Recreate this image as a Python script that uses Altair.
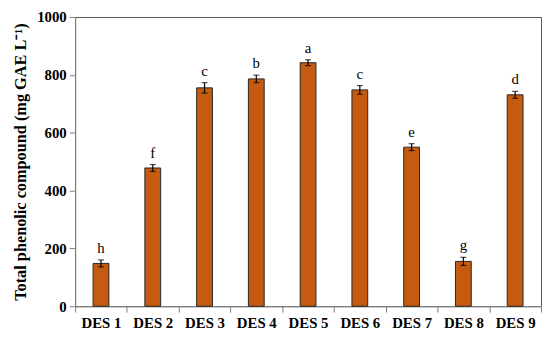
import altair as alt
import pandas as pd

categories = ["DES 1", "DES 2", "DES 3", "DES 4", "DES 5", "DES 6", "DES 7", "DES 8", "DES 9"]
values = [148, 478, 755, 786, 842, 748, 550, 155, 731]
errors = [12, 12, 18, 13, 10, 15, 12, 14, 12]
letters = ["h", "f", "c", "b", "a", "c", "e", "g", "d"]

df = pd.DataFrame({"cat": categories, "val": values, "err": errors, "letter": letters})
df["lo"] = df["val"] - df["err"]
df["hi"] = df["val"] + df["err"]

FONT = "Liberation Serif"

x = alt.X("cat:N", sort=categories, title=None,
          scale=alt.Scale(paddingInner=0, paddingOuter=0),
          axis=alt.Axis(labelAngle=0, tickBand="extent", labelFont=FONT, labelFontSize=15,
                        labelFontWeight="bold", labelColor="black", tickSize=6,
                        domainColor="#7f7f7f", tickColor="#7f7f7f", labelPadding=4))
y = alt.Y("val:Q", title="Total phenolic compound (mg GAE L⁻¹)",
          scale=alt.Scale(domain=[0, 1000]),
          axis=alt.Axis(values=[0, 200, 400, 600, 800, 1000], format="d", labelFont=FONT,
                        labelFontSize=15, labelFontWeight="bold", labelColor="black",
                        titleFont=FONT, titleFontSize=16.5, titleFontWeight="bold",
                        titleColor="black", grid=False, tickSize=6, domainColor="#7f7f7f",
                        tickColor="#7f7f7f", titlePadding=8, labelPadding=3))

base = alt.Chart(df)
bars = base.mark_bar(size=16, color="#C55A11", stroke="#262626", strokeWidth=1).encode(x=x, y=y)
rule = base.mark_rule(color="black", strokeWidth=1.2).encode(x=alt.X("cat:N", sort=categories), y="lo:Q", y2="hi:Q")
cap_lo = base.mark_tick(color="black", size=6, thickness=1.2).encode(x=alt.X("cat:N", sort=categories), y="lo:Q")
cap_hi = base.mark_tick(color="black", size=6, thickness=1.2).encode(x=alt.X("cat:N", sort=categories), y="hi:Q")
text = base.mark_text(font=FONT, fontSize=15, color="#000000", baseline="bottom", dy=-4).encode(
    x=alt.X("cat:N", sort=categories), y="hi:Q", text="letter:N")

chart = alt.layer(bars, rule, cap_lo, cap_hi, text).properties(
    width=472, height=293, padding={"left": 5, "top": 0, "right": 0, "bottom": 0}
).configure_view(stroke="#595959", strokeWidth=1)

chart.save("out.html", embed_options={"renderer": "svg", "actions": False})
